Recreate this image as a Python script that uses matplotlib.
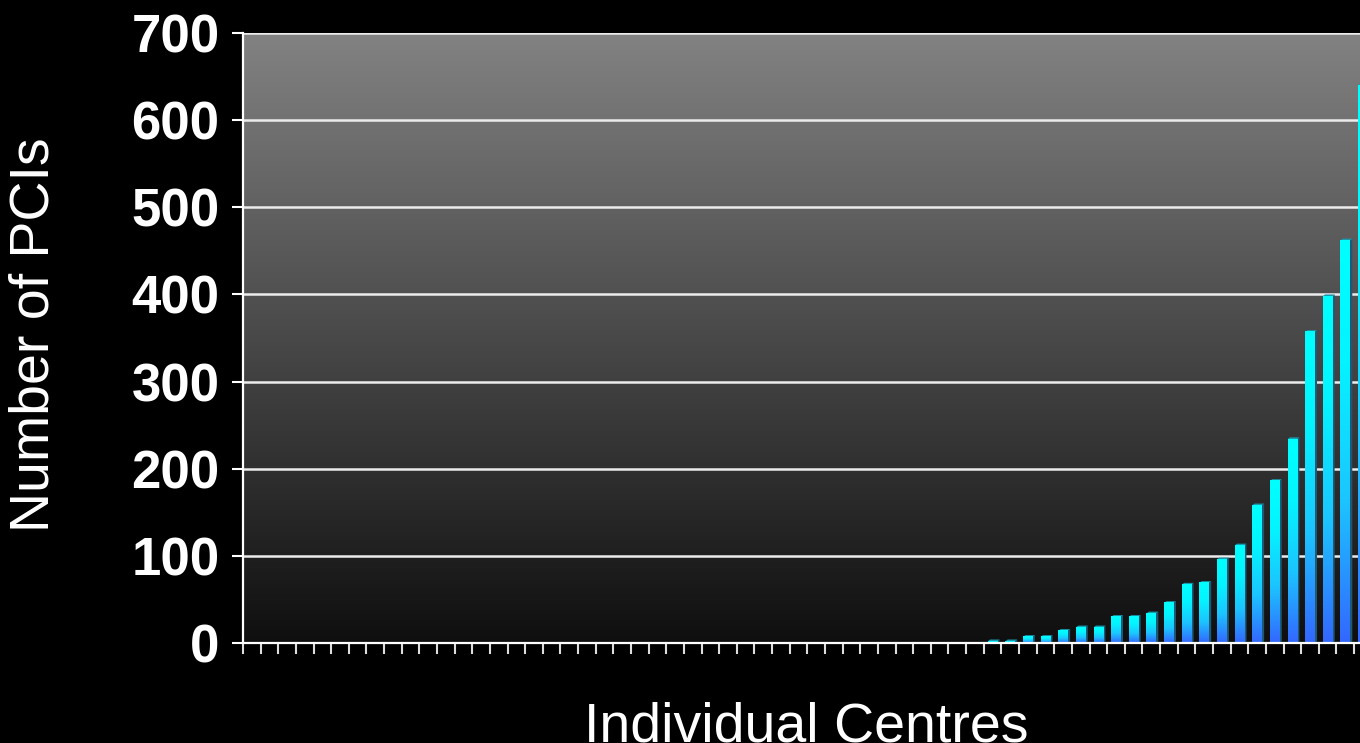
import numpy as np
import matplotlib
matplotlib.use("Agg")
import matplotlib.pyplot as plt
from matplotlib.colors import LinearSegmentedColormap
from matplotlib.patches import Polygon

# ---- data ----
n_centres = 64
zero_centres = 42
pci_nonzero = [2, 2, 7, 7, 14, 18, 18, 30, 30, 34, 46, 67, 69, 96, 112,
               158, 186, 234, 357, 398, 462, 640]
pci_counts = [0] * zero_centres + pci_nonzero
y_ticks = [0, 100, 200, 300, 400, 500, 600, 700]
y_label = "Number of PCIs"
x_label = "Individual Centres"

plt.rcParams['font.family'] = ['Liberation Sans', 'DejaVu Sans']

W, H = 1360, 743
fig = plt.figure(figsize=(W / 100, H / 100), dpi=100, facecolor='black')

ax_left = 243 / W
ax_bottom = (H - 643) / H
ax_height = (643 - 33) / H
cat_px = 17.636
ax_width = n_centres * cat_px / W
ax = fig.add_axes([ax_left, ax_bottom, ax_width, ax_height])
ax.set_facecolor('black')

# background gradient
bg = np.linspace(0, 1, 256).reshape(-1, 1)
bg_cmap = LinearSegmentedColormap.from_list('bg', ['#0f0f0f', '#828282'])
ax.imshow(bg, extent=[0, 1, 0, 1], transform=ax.transAxes, cmap=bg_cmap,
          aspect='auto', origin='lower', zorder=0)

# grid lines
for yv in y_ticks[1:]:
    ax.axhline(yv, color='#ececec', lw=1.8, zorder=1)

# bars with gradient + pseudo-3D
bar_cmap = LinearSegmentedColormap.from_list(
    'bar', [(0.0, '#3366ff'), (0.35, '#1cc4ff'), (0.7, '#04f4ff'), (1.0, '#00ffff')])
grad = np.linspace(0, 1, 256).reshape(-1, 1)
bw = 0.54
dx = 0.13
dy = 2.0
for i, v in enumerate(pci_counts):
    if v <= 0:
        continue
    x0 = i + 0.5 - bw / 2
    x1 = x0 + bw
    side = Polygon([(x1, 0), (x1 + dx, dy), (x1 + dx, v + dy), (x1, v)],
                   closed=True, facecolor='#1d5a78', edgecolor='none', zorder=2)
    ax.add_patch(side)
    top = Polygon([(x0, v), (x0 + dx, v + dy), (x1 + dx, v + dy), (x1, v)],
                  closed=True, facecolor='#179bb0', edgecolor='none', zorder=2)
    ax.add_patch(top)
    ax.imshow(grad, extent=[x0, x1, 0, v], cmap=bar_cmap, aspect='auto',
              origin='lower', zorder=3, interpolation='bilinear')

ax.set_xlim(0, n_centres)
ax.set_ylim(0, 700)
ax.set_aspect('auto')

# spines
for s in ['top', 'right']:
    ax.spines[s].set_visible(False)
for s in ['left', 'bottom']:
    ax.spines[s].set_color('white')
    ax.spines[s].set_linewidth(1.6)
    ax.spines[s].set_zorder(5)

ax.set_xticks(np.arange(0, n_centres + 1))
ax.set_xticklabels([])
ax.tick_params(axis='x', direction='out', length=8, width=1.5, color='#dddddd')
ax.set_yticks(y_ticks)
ax.set_yticklabels([str(t) for t in y_ticks], fontsize=38, fontweight='bold',
                   color='white')
ax.tick_params(axis='y', direction='out', length=8, width=1.5, color='white', pad=9)

fig.text(35 / W, (H - 335) / H, y_label, rotation=90, ha='center', va='center',
         fontsize=40, color='white')
fig.text(806.5 / W, 2 / H, x_label, ha='center', va='baseline',
         fontsize=40, color='white')

fig.savefig('out.png', dpi=100, facecolor='black')
